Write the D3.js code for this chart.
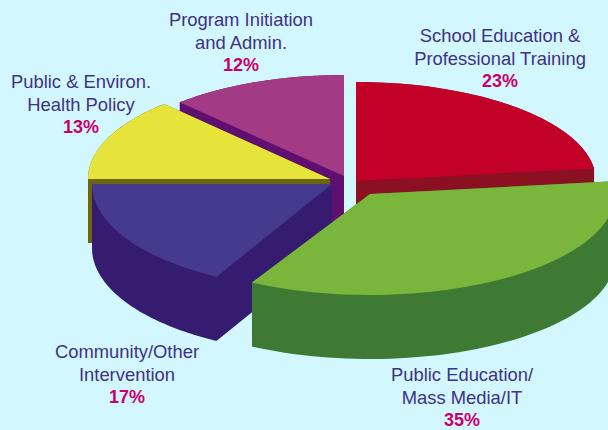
<!DOCTYPE html>
<html>
<head>
<meta charset="utf-8">
<script src="https://cdn.jsdelivr.net/npm/d3@7/dist/d3.min.js"></script>
<style>
html,body{margin:0;padding:0;background:#d3f7ff;overflow:hidden}
svg{display:block}
text{font-family:"Liberation Sans",Arial,sans-serif}
</style>
</head>
<body>
<svg id="chart" width="608" height="430"></svg>
<script>
// Budget shares, clockwise from twelve o'clock
const categories = ["School Education & Professional Training", "Public Education/ Mass Media/IT", "Community/Other Intervention", "Public & Environ. Health Policy", "Program Initiation and Admin."];
const shares = [23, 35, 17, 13, 12];
const labelLines = [
  ["School Education &", "Professional Training"],
  ["Public Education/", "Mass Media/IT"],
  ["Community/Other", "Intervention"],
  ["Public & Environ.", "Health Policy"],
  ["Program Initiation", "and Admin."]
];

// Presentation of each wedge
const topColors  = ["#c30028", "#7ab53c", "#453a8e", "#e6e43a", "#a33a85"];
const wallColors = ["#8a1022", "#3f7a35", "#351c70", "#6b6510", "#5e0f70"];
const centers = [[356, 181], [370, 194], [332, 184], [330, 179], [344, 176]];
const radii = [[240, 99], [245, 101], [240, 106], [242, 103], [240, 101]];
const labelAnchors = [[500, 42], [462, 381], [127, 358], [81, 88], [241, 26]];
const paintOrder = [4, 3, 0, 2, 1];
const depth = 64;
const unit = 100;

const svg = d3.select("#chart");
const pie = d3.pie().sort(null).value(d => d);
const wedges = pie(shares);
const arc = d3.arc().innerRadius(0).outerRadius(unit);

// Outline of a wedge on its elliptical top face
function outline(w, i) {
  const [cx, cy] = centers[i], [rx, ry] = radii[i];
  const pts = [[cx, cy]];
  const sweep = d3.scaleLinear().domain([0, 60]).range([w.startAngle, w.endAngle]);
  d3.range(61).forEach(k => {
    const a = sweep(k);
    pts.push([cx + rx * Math.sin(a), cy - ry * Math.cos(a)]);
  });
  return pts;
}

// Adds a closed ring to a path, always wound the same way so overlaps stay filled
function addRing(p, ring) {
  const r = d3.polygonArea(ring) < 0 ? ring.slice().reverse() : ring;
  r.forEach((q, k) => k ? p.lineTo(q[0], q[1]) : p.moveTo(q[0], q[1]));
  p.closePath();
}

// Solid body: the outline swept straight down by the pie's thickness
function wallPath(pts) {
  const p = d3.path();
  addRing(p, pts);
  addRing(p, pts.map(q => [q[0], q[1] + depth]));
  pts.forEach((a, k) => {
    const b = pts[(k + 1) % pts.length];
    if (Math.abs(a[0] - b[0]) > 1e-6) {
      addRing(p, [a, b, [b[0], b[1] + depth], [a[0], a[1] + depth]]);
    }
  });
  return p.toString();
}

const groups = svg.selectAll("g.slice")
  .data(paintOrder.map(i => ({w: wedges[i], i})))
  .join("g").attr("class", "slice");

groups.append("path")
  .attr("d", d => wallPath(outline(d.w, d.i)))
  .attr("fill", d => wallColors[d.i]);

groups.append("path")
  .attr("d", d => arc(d.w))
  .attr("transform", d => `translate(${centers[d.i]}) scale(${radii[d.i][0] / unit},${radii[d.i][1] / unit})`)
  .attr("fill", d => topColors[d.i]);

// Category captions with the share underneath
const captions = svg.selectAll("g.caption")
  .data(categories.map((c, i) => i))
  .join("g").attr("class", "caption")
  .attr("text-anchor", "middle");

captions.each(function (i) {
  const g = d3.select(this), [x, y] = labelAnchors[i];
  labelLines[i].forEach((line, k) => {
    g.append("text").attr("x", x).attr("y", y + k * 22.5)
      .attr("font-size", 18.4).attr("fill", "#3e3285").text(line);
  });
  g.append("text").attr("x", x).attr("y", y + 45)
    .attr("font-size", 18).attr("font-weight", "bold").attr("fill", "#c8006e")
    .text(shares[i] + "%");
});
</script>
</body>
</html>
